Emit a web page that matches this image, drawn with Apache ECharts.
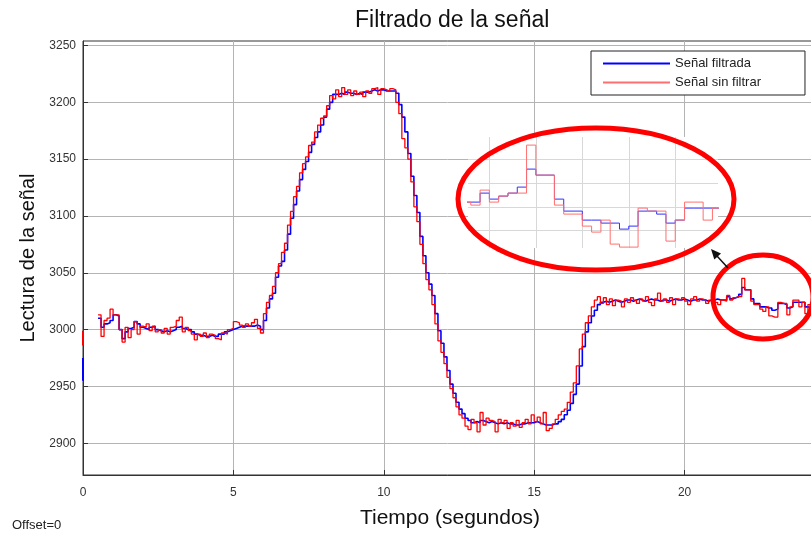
<!DOCTYPE html>
<html>
<head>
<meta charset="utf-8">
<script src="https://cdn.jsdelivr.net/npm/echarts@6/dist/echarts.min.js"></script>
<style>
  html, body { margin: 0; padding: 0; background: #fff; }
  #chart { width: 811px; height: 535px; }
</style>
</head>
<body>
<div id="chart"></div>
<script>
// muestreo de la señal (segundos)
const tInicio = 0.5;
const paso = 0.1;

// señal filtrada, una fila por segundo
const filtrada = [
  3010, 3002, 3005, 3006, 3008,
  3013, 3012, 3000, 2992, 2998, 3001, 3002, 3007, 3005, 3002,
  3001, 3000, 3002, 3003, 3000, 2999, 2998, 2999, 2998, 2999,
  3000, 3002, 3003, 3001, 3000, 3000, 2998, 2996, 2995, 2995,
  2994, 2994, 2995, 2994, 2994, 2996, 2996, 2998, 2999, 3000,
  3001, 3002, 3003, 3003, 3003, 3003, 3003, 3004, 3003, 3000,
  3008, 3019, 3027, 3032, 3046, 3056, 3060, 3070, 3084, 3098,
  3110, 3122, 3132, 3141, 3148, 3156, 3163, 3169, 3174, 3180,
  3187, 3194, 3200, 3207, 3207, 3208, 3207, 3209, 3208, 3208,
  3207, 3208, 3207, 3209, 3209, 3210, 3211, 3210, 3211, 3211,
  3210, 3210, 3210, 3210, 3208, 3198, 3187, 3174, 3155, 3135,
  3118, 3103, 3082, 3065, 3050, 3040, 3030, 3014, 2999, 2988,
  2976, 2964, 2952, 2944, 2936, 2930, 2926, 2922, 2920, 2918,
  2919, 2918, 2920, 2919, 2918, 2919, 2918, 2917, 2918, 2917,
  2918, 2917, 2917, 2916, 2916, 2917, 2917, 2918, 2918, 2918,
  2919, 2918, 2917, 2916, 2916, 2916, 2917, 2917, 2919, 2921,
  2925, 2929, 2935, 2943, 2952, 2968, 2985, 2998, 3006, 3012,
  3017, 3022, 3024, 3025, 3024, 3025, 3026, 3025, 3024, 3025,
  3026, 3026, 3025, 3026, 3027, 3026, 3025, 3026, 3027, 3026,
  3026, 3025, 3026, 3026, 3025, 3026, 3027, 3026, 3026, 3027,
  3026, 3025, 3026, 3026, 3027, 3026, 3026, 3025, 3026, 3026,
  3027, 3026, 3026, 3026, 3029, 3027, 3028, 3029, 3031, 3037,
  3035, 3035, 3027, 3023, 3023, 3020, 3020, 3019, 3019, 3017,
  3018, 3023, 3023, 3022, 3019, 3020, 3024, 3024, 3024, 3024,
  3020, 3019, 3017, 3017
];

// señal sin filtrar
const sinFiltrar = [
  3013, 2994, 3008, 3010, 3018,
  3013, 3013, 3000, 2989, 3002, 2993, 3000, 3007, 2996, 3003,
  3002, 3005, 2999, 3003, 2998, 3000, 2997, 3001, 2996, 3002,
  3003, 3008, 3011, 2998, 3002, 2999, 2996, 2991, 2996, 2994,
  2997, 2993, 2996, 2995, 2992, 2991, 2997, 2996, 3000, 3001,
  3007, 3006, 3004, 3002, 3005, 3003, 3006, 3009, 3001, 2997,
  3014, 3024, 3030, 3038, 3050, 3058, 3068, 3076, 3092, 3104,
  3117, 3126, 3138, 3146, 3152, 3162, 3165, 3174, 3180, 3186,
  3188, 3197, 3206, 3203, 3211, 3205, 3213, 3207, 3211, 3206,
  3210, 3207, 3209, 3205, 3210, 3208, 3212, 3213, 3207, 3212,
  3211, 3210, 3212, 3211, 3200, 3190, 3168, 3160, 3150, 3130,
  3108, 3095, 3075, 3058, 3044, 3035, 3022, 3005, 2990, 2980,
  2970, 2958, 2948, 2940, 2932, 2925, 2922, 2915, 2912, 2921,
  2918, 2910, 2927, 2916, 2922, 2920, 2919, 2910, 2921, 2918,
  2920, 2913, 2918, 2915, 2920, 2914, 2918, 2921, 2917, 2925,
  2919, 2923, 2917, 2927, 2911, 2913, 2917, 2921, 2925, 2928,
  2930, 2936, 2945, 2953, 2968, 2983, 2996, 3006, 3012, 3020,
  3026, 3029, 3023, 3028, 3022, 3027, 3021, 3026, 3025, 3020,
  3027, 3024, 3028, 3026, 3023, 3027, 3025, 3029, 3024, 3021,
  3027, 3032, 3025, 3027, 3024, 3028, 3022, 3027, 3026, 3028,
  3025, 3022, 3027, 3029, 3025, 3027, 3026, 3023, 3026, 3027,
  3024, 3022, 3026, 3025, 3030, 3026, 3028, 3029, 3029, 3045,
  3035, 3035, 3025, 3022, 3022, 3018, 3016, 3020, 3012, 3011,
  3011, 3024, 3023, 3023, 3013, 3020, 3026, 3026, 3020, 3024,
  3014, 3022, 3016, 3020
];

// valores en t = 0
const arranqueFiltrada = [2955, 2975];
const arranqueSinFiltrar = [2986, 2999];

const ticksY = [2900, 2950, 3000, 3050, 3100, 3150, 3200, 3250];

// recuadro de zoom
const zoomX = [21.27, 23.96];
const zoomY = [3010.7, 3047.7];
const lineasZoomX = [21.5, 22, 22.5, 23, 23.5];
const lineasZoomY = [3016.7, 3024.3, 3032.3, 3040.3];

const fuente = 'Liberation Sans, Arial, sans-serif';
const azul = '#0000ff';
const rojo = '#ff0000';

const puntos = arr => arr.map((v, i) => [+(tInicio + i * paso).toFixed(2), v]);

const chart = echarts.init(document.getElementById('chart'));
chart.setOption({
  animation: false,
  textStyle: { fontFamily: fuente },
  title: {
    text: 'Filtrado de la señal',
    left: 350,
    top: 4,
    textStyle: { fontSize: 23, fontWeight: 'normal', color: '#111', fontFamily: fuente }
  },
  legend: {
    data: [
      { name: 'Señal filtrada', lineStyle: { color: azul } },
      { name: 'Señal sin filtrar', lineStyle: { color: '#ff6f6f' } }
    ],
    orient: 'vertical',
    left: 591,
    top: 51,
    padding: [6, 44, 6, 11],
    itemWidth: 67,
    itemHeight: 14,
    itemGap: 6,
    itemStyle: { opacity: 0 },
    backgroundColor: '#fff',
    borderColor: '#222',
    borderWidth: 1,
    textStyle: { fontSize: 13, color: '#222' }
  },
  grid: [
    {
      left: 83, top: 41, width: 752, bottom: 60, outerBoundsMode: 'none',
      show: true, borderColor: '#333', borderWidth: 1, backgroundColor: '#fff'
    },
    { left: 468, top: 137, width: 250, height: 111, outerBoundsMode: 'none' }
  ],
  xAxis: [
    {
      type: 'value', gridIndex: 0, min: 0, max: 25, interval: 5,
      name: 'Tiempo (segundos)', nameLocation: 'middle', nameGap: 33,
      nameTextStyle: { fontSize: 21, color: '#111', padding: [0, 18, 0, 0] },
      axisLine: { lineStyle: { color: '#333' } },
      axisTick: { inside: true, length: 5, lineStyle: { color: '#333' } },
      axisLabel: { fontSize: 12, color: '#333', margin: 12 },
      splitLine: { lineStyle: { color: '#b4b4b4', width: 1 } }
    },
    {
      type: 'value', gridIndex: 1, min: zoomX[0], max: zoomX[1], z: 3,
      axisLine: { show: false },
      axisTick: { show: false, customValues: lineasZoomX },
      axisLabel: { show: false, customValues: lineasZoomX },
      splitLine: { lineStyle: { color: '#d8d8d8', width: 1 } }
    }
  ],
  yAxis: [
    {
      type: 'value', gridIndex: 0, min: 2872, max: 3254,
      name: 'Lectura de la señal', nameLocation: 'middle', nameGap: 38, nameRotate: 90,
      nameTextStyle: { fontSize: 20, color: '#111' },
      axisLine: { lineStyle: { color: '#333' } },
      axisTick: { inside: true, length: 5, lineStyle: { color: '#333' }, customValues: ticksY },
      axisLabel: { fontSize: 12, color: '#333', margin: 7, customValues: ticksY, formatter: v => String(v) },
      splitLine: { lineStyle: { color: '#b4b4b4', width: 1 } }
    },
    {
      type: 'value', gridIndex: 1, min: zoomY[0], max: zoomY[1], z: 3,
      axisLine: { show: false },
      axisTick: { show: false, customValues: lineasZoomY },
      axisLabel: { show: false, customValues: lineasZoomY },
      splitLine: { lineStyle: { color: '#d8d8d8', width: 1 } }
    }
  ],
  series: [
    {
      name: 'Señal filtrada', type: 'line', step: 'end', symbol: 'none',
      data: puntos(filtrada),
      lineStyle: { color: azul, width: 1.6 }, itemStyle: { color: azul }
    },
    {
      name: 'Señal sin filtrar', type: 'line', step: 'end', symbol: 'none',
      data: puntos(sinFiltrar),
      lineStyle: { color: rojo, width: 1.3 }, itemStyle: { color: rojo }
    },
    {
      name: 'Señal filtrada', type: 'line', symbol: 'none', clip: false,
      data: arranqueFiltrada.map(v => [0, v]),
      lineStyle: { color: azul, width: 2 }
    },
    {
      name: 'Señal sin filtrar', type: 'line', symbol: 'none', clip: false,
      data: arranqueSinFiltrar.map(v => [0, v]),
      lineStyle: { color: rojo, width: 2 }
    },
    {
      name: 'Señal filtrada', type: 'line', step: 'end', symbol: 'none', z: 4,
      xAxisIndex: 1, yAxisIndex: 1,
      data: puntos(filtrada),
      lineStyle: { color: '#3030ff', width: 1 }
    },
    {
      name: 'Señal sin filtrar', type: 'line', step: 'end', symbol: 'none', z: 4,
      xAxisIndex: 1, yAxisIndex: 1,
      data: puntos(sinFiltrar),
      lineStyle: { color: '#ff7070', width: 1 }
    }
  ],
  graphic: [
    { type: 'rect', z: 1, shape: { x: 468, y: 137, width: 250, height: 111 }, style: { fill: '#fff' } },
    { type: 'ellipse', z: 10, shape: { cx: 596, cy: 199, rx: 138, ry: 71 }, style: { fill: null, stroke: '#ff0000', lineWidth: 5 } },
    { type: 'ellipse', z: 10, shape: { cx: 763, cy: 297, rx: 50, ry: 42 }, style: { fill: null, stroke: '#ff0000', lineWidth: 5 } },
    { type: 'line', z: 10, shape: { x1: 728, y1: 268, x2: 717, y2: 256 }, style: { stroke: '#111', lineWidth: 1.5 } },
    { type: 'polygon', z: 10, shape: { points: [[711, 249], [721, 253.5], [714.3, 259.5]] }, style: { fill: '#111' } },
    { type: 'text', z: 10, left: 12, top: 519, style: { text: 'Offset=0', fill: '#222', font: '13px ' + fuente } }
  ]
});
</script>
</body>
</html>
